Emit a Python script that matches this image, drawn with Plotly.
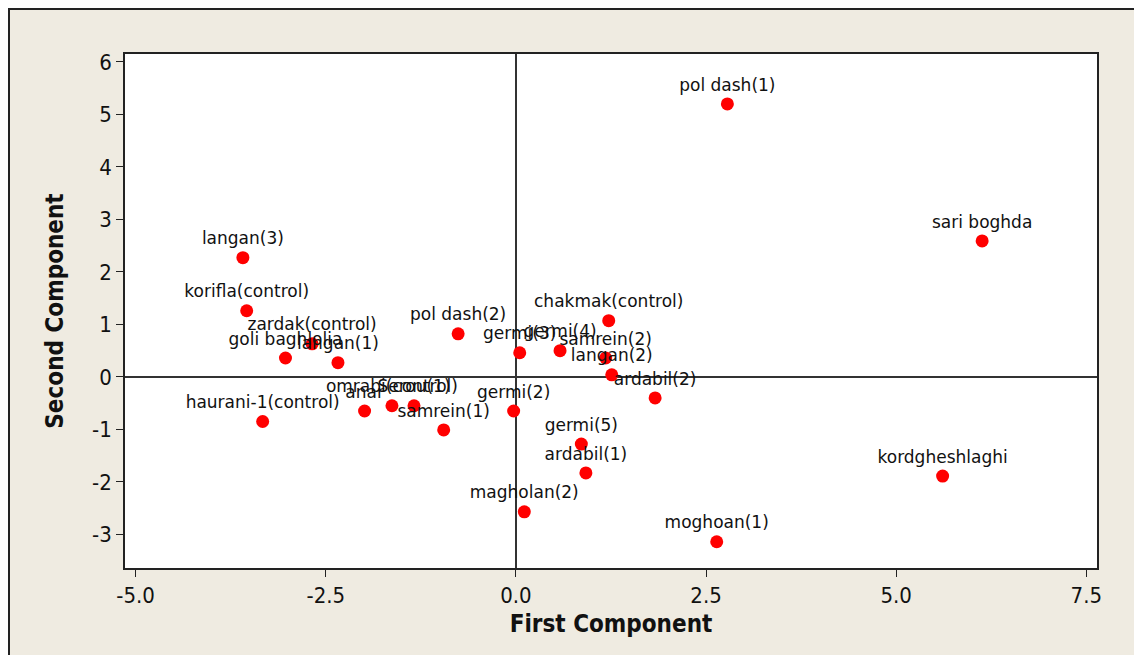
import plotly.graph_objects as go

labels = ["pol dash(1)", "sari boghda", "langan(3)", "korifla(control)", "zardak(control)",
          "goli baghlolia", "langan(1)", "pol dash(2)", "germi(3)", "germi(4)",
          "chakmak(control)", "samrein(2)", "langan(2)", "ardabil(2)", "germi(2)",
          "haurani-1(control)", "anar", "omrabi(control)", "Serou(1)", "samrein(1)",
          "germi(5)", "ardabil(1)", "magholan(2)", "moghoan(1)", "kordgheshlaghi"]
first_comp = [2.78, 6.13, -3.59, -3.54, -2.68,
              -3.03, -2.34, -0.76, 0.05, 0.58,
              1.22, 1.18, 1.26, 1.83, -0.03,
              -3.33, -1.99, -1.63, -1.34, -0.95,
              0.86, 0.92, 0.11, 2.64, 5.61]
second_comp = [5.20, 2.59, 2.27, 1.26, 0.63,
               0.36, 0.27, 0.82, 0.46, 0.50,
               1.07, 0.36, 0.04, -0.40, -0.65,
               -0.85, -0.65, -0.55, -0.55, -1.01,
               -1.28, -1.83, -2.57, -3.14, -1.89]
x_ticks = [-5.0, -2.5, 0.0, 2.5, 5.0, 7.5]
x_tick_text = ["-5.0", "-2.5", "0.0", "2.5", "5.0", "7.5"]
y_ticks = [-3, -2, -1, 0, 1, 2, 3, 4, 5, 6]
y_tick_text = ["-3", "-2", "-1", "0", "1", "2", "3", "4", "5", "6"]

fig = go.Figure()
fig.add_trace(go.Scatter(
    x=first_comp, y=second_comp, mode="markers+text",
    text=labels, textposition="top center",
    textfont=dict(family="DejaVu Sans", size=17, color="#111111"),
    marker=dict(color="#ff0000", size=13, line=dict(width=0)),
    cliponaxis=False, showlegend=False,
))

tick_font = dict(family="Liberation Sans Narrow, Arial Narrow, DejaVu Sans Condensed, sans-serif", size=22, color="#111111")
title_font = dict(family="Liberation Sans Narrow, Arial Narrow, DejaVu Sans Condensed, sans-serif", size=24, color="#111111")

fig.update_layout(
    width=1142, height=655,
    margin=dict(l=117, r=53, t=46, b=95, autoexpand=False),
    paper_bgcolor="#efebe1", plot_bgcolor="#ffffff",
    xaxis=dict(range=[-5.14, 7.64], tickvals=x_ticks, ticktext=x_tick_text,
               ticks="outside", ticklen=7, tickcolor="#222", showgrid=False, zeroline=True,
               zerolinecolor="#333", zerolinewidth=1.5, automargin=False,
               showline=True, linecolor="#222", linewidth=1.5, mirror=True,
               tickfont=tick_font,
               title=dict(text="<b>First Component</b>", font=title_font, standoff=8)),
    yaxis=dict(range=[-3.64, 6.15], tickvals=y_ticks, ticktext=y_tick_text,
               ticks="outside", ticklen=7, tickcolor="#222", showgrid=False, zeroline=True,
               zerolinecolor="#333", zerolinewidth=1.5, automargin=False,
               showline=True, linecolor="#222", linewidth=1.5, mirror=True,
               tickfont=tick_font,
               title=dict(text="<b>Second Component</b>", font=title_font, standoff=22)),
    shapes=[dict(type="rect", xref="paper", yref="paper",
                 x0=-116.0 / 972, x1=1.2, y0=-0.3, y1=1 + 45.0 / 514,
                 line=dict(color="#222", width=2), layer="below")],
)

fig.write_html("out.html")
